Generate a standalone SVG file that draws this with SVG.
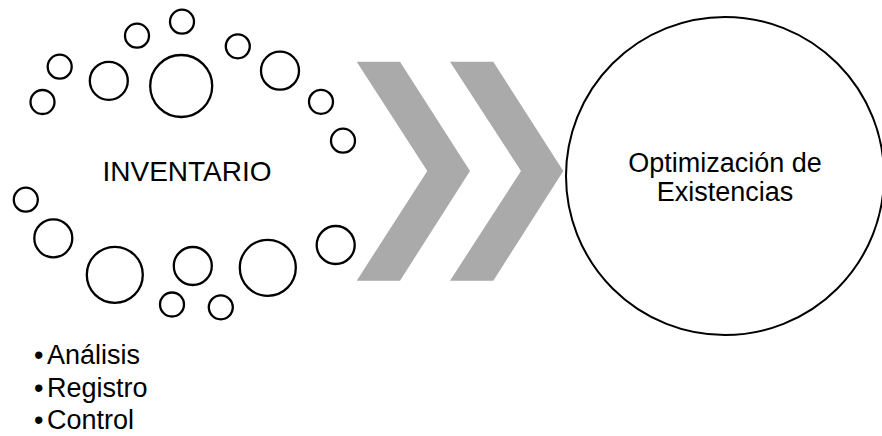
<svg xmlns="http://www.w3.org/2000/svg" width="882" height="436" viewBox="0 0 882 436">
<style>
.b{fill:#fff;stroke:#000;stroke-width:2.3}
.big{fill:#fff;stroke:#000;stroke-width:2}
.chev{fill:#aaaaaa;stroke:none}
text{font-family:"Liberation Sans",Arial,sans-serif;font-size:27px;fill:#000}
.t28{font-size:28px}
</style>
<rect width="882" height="436" fill="#fff"/>
<g id="inventario">
<circle class="b" cx="182" cy="21.7" r="12"/>
<circle class="b" cx="137" cy="35.7" r="12"/>
<circle class="b" cx="59.7" cy="66.7" r="12"/>
<circle class="b" cx="42.5" cy="102" r="12"/>
<circle class="b" cx="108.8" cy="80.8" r="19"/>
<circle class="b" cx="181.2" cy="86" r="31"/>
<circle class="b" cx="237.8" cy="46.3" r="12"/>
<circle class="b" cx="280" cy="70.7" r="19"/>
<circle class="b" cx="321" cy="101.8" r="12"/>
<circle class="b" cx="343" cy="140.7" r="12"/>
<circle class="b" cx="25.8" cy="199.7" r="12"/>
<circle class="b" cx="53.3" cy="238.3" r="19"/>
<circle class="b" cx="114.8" cy="274.8" r="28"/>
<circle class="b" cx="192.8" cy="266" r="19"/>
<circle class="b" cx="172" cy="304.5" r="12"/>
<circle class="b" cx="220.8" cy="307.3" r="12"/>
<circle class="b" cx="267.8" cy="267.8" r="28"/>
<circle class="b" cx="335.7" cy="245" r="19"/>
<text class="t28" x="187" y="181" text-anchor="middle">INVENTARIO</text>
</g>
<g id="lista">
<text x="34" y="364">•</text><text x="47" y="364">Análisis</text>
<text x="34" y="397">•</text><text x="47" y="397">Registro</text>
<text x="34" y="429">•</text><text x="47" y="429">Control</text>
</g>
<g id="conectores">
<polygon class="chev" points="356.7,61.7 400,61.7 470,171 400,280.7 356.7,280.7 427.3,171"/>
<polygon class="chev" points="450,61.7 493.3,61.7 563.3,171 493.3,280.7 450,280.7 521,171"/>
</g>
<g id="optimizacion">
<circle class="big" cx="725" cy="176" r="159"/>
<text x="725" y="171.5" text-anchor="middle">Optimización de</text>
<text x="725" y="200.5" text-anchor="middle">Existencias</text>
</g>
</svg>
